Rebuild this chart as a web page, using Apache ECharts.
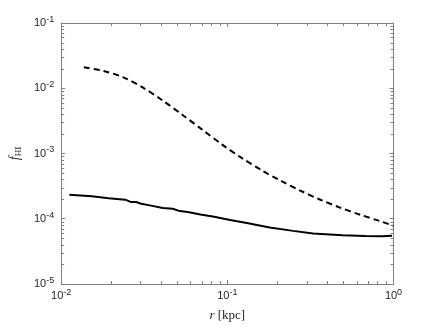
<!DOCTYPE html>
<html><head><meta charset="utf-8">
<script src="https://cdn.jsdelivr.net/npm/echarts@6/dist/echarts.min.js"></script>
<style>html,body{margin:0;padding:0;background:#fff}#c{width:436px;height:327px}</style>
</head><body><div id="c"></div>
<script>
// Dashed curve
const dashedR = [0.0137, 0.0180, 0.0237, 0.0311, 0.0409, 0.0538, 0.0708, 0.0931, 0.122, 0.161, 0.212, 0.278, 0.366, 0.481, 0.632, 0.831, 1.0];
const dashedF = [0.0210, 0.0184, 0.0147, 0.0102, 0.00647, 0.00390, 0.00231, 0.00137, 0.000855, 0.000553, 0.000377, 0.000266, 0.000194, 0.000147, 0.000115, 0.0000917, 0.0000783];
// Solid curve
const solidR = [0.0112, 0.0153, 0.0193, 0.0243, 0.0264, 0.0283, 0.0303, 0.0348, 0.0409, 0.0470, 0.0517, 0.0577, 0.0689, 0.0834, 0.104, 0.131, 0.180, 0.249, 0.328, 0.494, 0.678, 0.855, 0.980];
const solidF = [0.000233, 0.000221, 0.000206, 0.000196, 0.000180, 0.000181, 0.000170, 0.000159, 0.000146, 0.000142, 0.000131, 0.000127, 0.000116, 0.000107, 0.0000955, 0.0000861, 0.0000735, 0.0000652, 0.0000595, 0.0000559, 0.0000542, 0.0000540, 0.0000550];
// Axis ranges / ticks
const xMin = 0.01, xMax = 1;
const yMin = 1e-5, yMax = 1e-1;
const xMinorTicks = [0.02,0.03,0.04,0.05,0.06,0.07,0.08,0.09,0.2,0.3,0.4,0.5,0.6,0.7,0.8,0.9];
const yMinorTicks = [2e-5,3e-5,4e-5,5e-5,6e-5,7e-5,8e-5,9e-5,2e-4,3e-4,4e-4,5e-4,6e-4,7e-4,8e-4,9e-4,2e-3,3e-3,4e-3,5e-3,6e-3,7e-3,8e-3,9e-3,2e-2,3e-2,4e-2,5e-2,6e-2,7e-2,8e-2,9e-2];

const AX = '#808080';
const LBL = '#262626';
const SANS = "'Liberation Sans', Arial, sans-serif";
const SERIF = "'Liberation Serif', 'Times New Roman', serif";
const zip = (a, b) => a.map((v, i) => [v, b[i]]);
const fmt = v => '{b|10}{s|' + Math.round(Math.log10(v)) + '}';
const rich = {
  b: {fontFamily: SANS, fontSize: 11, color: LBL, lineHeight: 16},
  s: {fontFamily: SANS, fontSize: 9, color: LBL, verticalAlign: 'top'}
};

function minorSeries(vals, isX) {
  return {
    type: 'custom', coordinateSystem: 'cartesian2d', silent: true, z: 5, clip: false,
    data: vals.map(v => isX ? [v, 1e-3] : [0.1, v]),
    renderItem: (params, api) => {
      const cs = params.coordSys;
      const p = api.coord([api.value(0), api.value(1)]);
      const L = 3;
      const style = {stroke: AX, lineWidth: 1};
      if (isX) {
        const x = Math.round(p[0]) + 0.5;
        const b = cs.y + cs.height;
        return {type: 'group', children: [
          {type: 'line', shape: {x1: x, y1: b, x2: x, y2: b - L}, style},
          {type: 'line', shape: {x1: x, y1: cs.y, x2: x, y2: cs.y + L}, style}
        ]};
      } else {
        const y = Math.round(p[1]) + 0.5;
        const r = cs.x + cs.width;
        return {type: 'group', children: [
          {type: 'line', shape: {x1: cs.x, y1: y, x2: cs.x + L, y2: y}, style},
          {type: 'line', shape: {x1: r, y1: y, x2: r - L, y2: y}, style}
        ]};
      }
    }
  };
}

const chart = echarts.init(document.getElementById('c'), null, {renderer: 'canvas'});
const baseX = {
  type: 'log', logBase: 10, min: xMin, max: xMax,
  axisLine: {show: true, lineStyle: {color: AX, width: 1}},
  axisTick: {show: true, inside: true, length: 4, lineStyle: {color: AX}},
  splitLine: {show: false}
};
const baseY = {
  type: 'log', logBase: 10, min: yMin, max: yMax,
  axisLine: {show: true, lineStyle: {color: AX, width: 1}},
  axisTick: {show: true, inside: true, length: 4, lineStyle: {color: AX}},
  splitLine: {show: false}
};
chart.setOption({
  animation: false,
  backgroundColor: '#fff',
  grid: {left: 57, right: 42.5, top: 23, bottom: 40, containLabel: false},
  xAxis: [
    Object.assign({}, baseX, {
      position: 'bottom',
      axisLabel: {formatter: fmt, rich, fontFamily: SANS, margin: 4, showMinLabel: true, showMaxLabel: true},
      name: '{i|r} [kpc]', nameLocation: 'middle', nameGap: 25,
      nameTextStyle: {fontFamily: SERIF, fontSize: 13, color: LBL,
        rich: {i: {fontFamily: SERIF, fontStyle: 'italic', fontSize: 13, color: LBL}}}
    }),
    Object.assign({}, baseX, {position: 'top', axisLabel: {show: false}})
  ],
  yAxis: [
    Object.assign({}, baseY, {
      position: 'left',
      axisLabel: {formatter: fmt, rich, fontFamily: SANS, margin: 7, showMinLabel: true, showMaxLabel: true},
      name: '{i|f}{sub|HI}', nameLocation: 'middle', nameGap: 37, nameRotate: 90,
      nameTextStyle: {color: LBL,
        rich: {
          i: {fontFamily: SERIF, fontStyle: 'italic', fontSize: 14, color: LBL, lineHeight: 16},
          sub: {fontFamily: SERIF, fontSize: 9, color: LBL, verticalAlign: 'bottom'}
        }}
    }),
    Object.assign({}, baseY, {position: 'right', axisLabel: {show: false}})
  ],
  series: [
    {type: 'line', data: zip(dashedR, dashedF), xAxisIndex: 0, yAxisIndex: 0, showSymbol: false, symbol: 'none',
      smooth: 0.3, lineStyle: {color: '#000', width: 2, type: [6, 4]}, z: 3},
    {type: 'line', data: zip(solidR, solidF), xAxisIndex: 0, yAxisIndex: 0, showSymbol: false, symbol: 'none',
      lineStyle: {color: '#000', width: 2}, z: 3},
    minorSeries(xMinorTicks, true),
    minorSeries(yMinorTicks, false)
  ]
});
</script>
</body></html>
